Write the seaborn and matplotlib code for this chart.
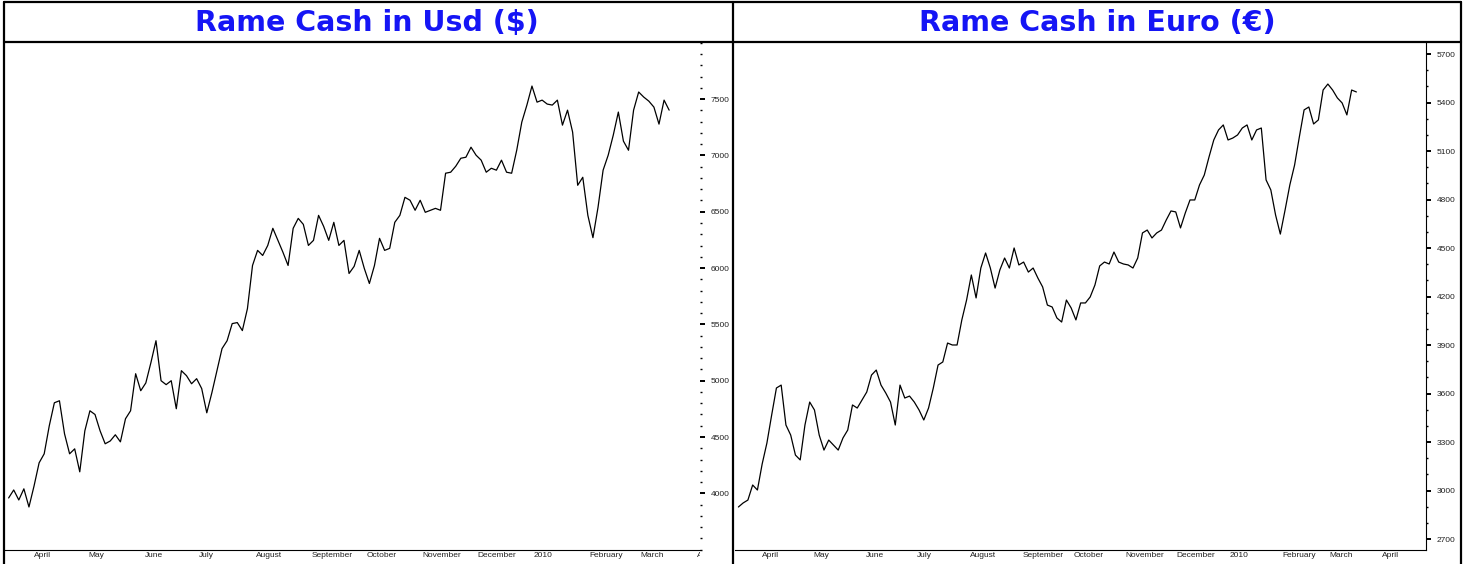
import pandas as pd
import matplotlib
matplotlib.use('Agg')
import matplotlib.pyplot as plt
import matplotlib.dates as mdates
from matplotlib.ticker import MultipleLocator
from matplotlib.transforms import Bbox, TransformedBbox, ScaledTranslation
from matplotlib.lines import Line2D
import seaborn as sns

sns.set_style('white')
plt.rcParams['font.family'] = ['Liberation Sans', 'DejaVu Sans']

# data: one value every second trading day, 19 Mar 2009 .. 18 Mar 2010
start_date = '2009-03-19'
end_date = '2010-03-18'

usd = [3959, 4030, 3941, 4040, 3879, 4065, 4271, 4351, 4600, 4804,
       4822, 4529, 4351, 4395, 4191, 4555, 4733, 4700, 4555, 4440,
       4465, 4520, 4457, 4662, 4733, 5062, 4911, 4980, 5160, 5355,
       5000, 4965, 5000, 4751, 5089, 5045, 4973, 5018, 4930, 4715,
       4893, 5089, 5285, 5355, 5507, 5516, 5445, 5640, 6023, 6157,
       6112, 6201, 6353, 6246, 6139, 6023, 6353, 6441, 6388, 6201,
       6246, 6468, 6370, 6246, 6406, 6201, 6246, 5952, 6015, 6157,
       5997, 5863, 6023, 6264, 6157, 6175, 6406, 6468, 6628, 6602,
       6513, 6602, 6495, 6513, 6530, 6513, 6842, 6851, 6904, 6975,
       6984, 7073, 7002, 6958, 6851, 6886, 6869, 6958, 6851, 6842,
       7046, 7296, 7447, 7616, 7473, 7491, 7456, 7447, 7491, 7269,
       7402, 7207, 6735, 6806, 6468, 6270, 6539, 6869, 7002, 7180,
       7385, 7127, 7046, 7402, 7563, 7518, 7482, 7429, 7278, 7491,
       7402]

eur = [2899, 2924, 2942, 3035, 3004, 3165, 3295, 3468, 3635, 3653,
       3406, 3344, 3220, 3190, 3406, 3548, 3499, 3344, 3251, 3313,
       3282, 3251, 3326, 3375, 3530, 3511, 3561, 3610, 3715, 3746,
       3653, 3604, 3548, 3406, 3653, 3573, 3585, 3548, 3499, 3437,
       3511, 3635, 3777, 3796, 3913, 3901, 3901, 4056, 4179, 4334,
       4192, 4377, 4470, 4377, 4253, 4365, 4439, 4377, 4501, 4396,
       4414, 4352, 4377, 4315, 4260, 4148, 4136, 4068, 4043, 4179,
       4130, 4056, 4161, 4161, 4198, 4272, 4390, 4414, 4402, 4476,
       4414, 4402, 4396, 4377, 4439, 4594, 4612, 4563, 4594, 4612,
       4674, 4730, 4724, 4625, 4717, 4798, 4798, 4891, 4952, 5064,
       5169, 5231, 5262, 5169, 5181, 5200, 5243, 5262, 5169, 5231,
       5243, 4922, 4860, 4705, 4587, 4736, 4891, 5014, 5188, 5355,
       5373, 5268, 5293, 5478, 5515, 5478, 5429, 5398, 5324, 5478,
       5466]

titles = ['Rame Cash in Usd ($)', 'Rame Cash in Euro (€)']
usd_ticks = [4000, 4500, 5000, 5500, 6000, 6500, 7000, 7500]
eur_ticks = [2700, 3000, 3300, 3600, 3900, 4200, 4500, 4800, 5100, 5400, 5700]
month_starts = pd.date_range('2009-04-01', '2010-04-01', freq='MS')
month_labels = ['April', 'May', 'June', 'July', 'August', 'September', 'October',
                'November', 'December', '2010', 'February', 'March', 'April']

df = pd.DataFrame({'date': pd.date_range(start_date, end_date, periods=len(usd)),
                   'usd': usd, 'eur': eur})

W, H = 1464, 564
fig = plt.figure(figsize=(W / 100, H / 100), dpi=100, facecolor='white')


def fx(px):
    return px / W


def fy(py):
    return 1 - py / H


panels = [
    dict(col='usd', x0=5, x1=700, xlim=('2009-03-17', '2010-04-04'),
         ylim=(3497, 8007), ticks=usd_ticks, spine=False, tcenter=367),
    dict(col='eur', x0=735, x1=1426, xlim=('2009-03-17', '2010-04-28'),
         ylim=(2633, 5775), ticks=eur_ticks, spine=True, tcenter=1097),
]

for p, title in zip(panels, titles):
    ax = fig.add_axes([fx(p['x0']), fy(550), fx(p['x1']) - fx(p['x0']), fy(42) - fy(550)])
    sns.lineplot(data=df, x='date', y=p['col'], ax=ax, color='black', linewidth=0.9)
    ax.set_xlabel('')
    ax.set_ylabel('')
    ax.set_xlim(pd.Timestamp(p['xlim'][0]), pd.Timestamp(p['xlim'][1]))
    ax.set_ylim(*p['ylim'])

    for s in ['left', 'top']:
        ax.spines[s].set_visible(False)
    ax.spines['right'].set_visible(p['spine'])
    ax.spines['right'].set_linewidth(0.8)
    ax.spines['bottom'].set_linewidth(0.8)
    ax.spines['bottom'].set_color('black')
    ax.spines['right'].set_color('black')

    # x axis: month separators + weekly ticks, labels drawn to the right of each month tick
    ax.xaxis.set_major_locator(mdates.MonthLocator())
    ax.xaxis.set_minor_locator(mdates.WeekdayLocator(byweekday=mdates.MO))
    ax.tick_params(axis='x', which='major', direction='out', length=10, width=0.8,
                   color='black', labelbottom=False)
    ax.tick_params(axis='x', which='minor', direction='in', length=3, width=0.8,
                   color='black')

    clip = TransformedBbox(Bbox.from_extents(fx(p['x0']), 0, fx(p['x1']), 1), fig.transFigure)
    off = ax.get_xaxis_transform() + ScaledTranslation(0.02, -0.02, fig.dpi_scale_trans)
    for d, lab in zip(month_starts, month_labels):
        t = ax.text(d, 0, lab, transform=off, ha='left', va='top', fontsize=6,
                    color='#222222')
        t.set_clip_path(None)
        t.set_clip_box(clip)
        t.set_clip_on(True)

    # y axis on the right
    ax.yaxis.tick_right()
    ax.set_yticks(p['ticks'])
    ax.yaxis.set_minor_locator(MultipleLocator(100))
    ax.tick_params(axis='y', which='major', direction='out', length=3.5, width=1.4,
                   labelsize=6, labelcolor='#222222', pad=4, color='black')
    ax.tick_params(axis='y', which='minor', direction='out', length=1.5, width=1,
                   color='black')
    ax.set_ylim(*p['ylim'])
    ax.grid(False)

    fig.text(fx(p['tcenter']), fy(23), title, ha='center', va='center', fontsize=20.5,
             fontweight='bold', color='#1515F5', family=['DejaVu Sans'])

# panel frames
frame = dict(transform=fig.transFigure, color='black', lw=1.6)
fig.add_artist(Line2D([fx(4), fx(1461)], [fy(2), fy(2)], **frame))
fig.add_artist(Line2D([fx(4), fx(1461)], [fy(42), fy(42)], **frame))
for xp in [4, 733, 1461]:
    fig.add_artist(Line2D([fx(xp), fx(xp)], [fy(2), fy(564)], **frame))

fig.savefig('out.png', dpi=100, facecolor='white')
